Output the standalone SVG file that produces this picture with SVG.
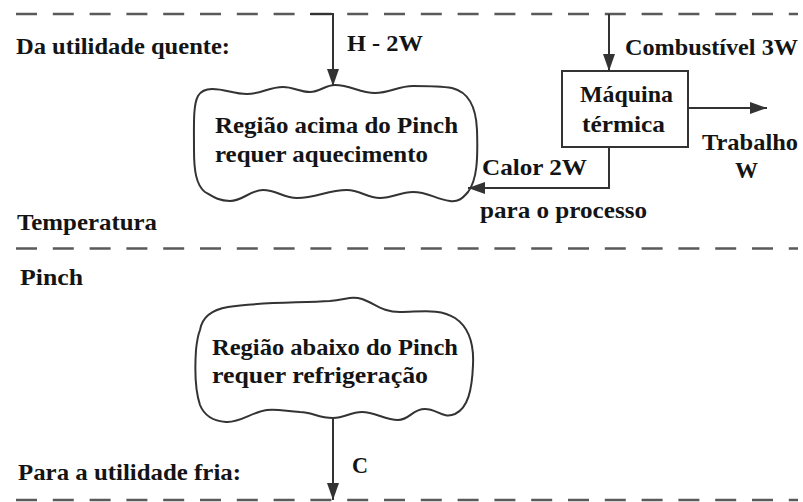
<svg xmlns="http://www.w3.org/2000/svg" width="803" height="502" viewBox="0 0 803 502">
  <defs>
    <marker id="arrow" markerUnits="userSpaceOnUse" markerWidth="18" markerHeight="12" refX="17" refY="6" orient="auto">
      <path d="M0,0 L17,6 L0,12 Z" fill="#333"/>
    </marker>
    <style>
      text { font-family: "Liberation Serif", "DejaVu Serif", "Times New Roman", serif; font-weight: bold; font-size: 24px; fill: #141414; }
      .mid { text-anchor: middle; }
      .bound { stroke: #5a5a5a; stroke-width: 2.5; stroke-dasharray: 21 15.8; fill: none; }
      .flow { stroke: #333; stroke-width: 2; fill: none; marker-end: url(#arrow); }
      .shape { stroke: #333; stroke-width: 2; fill: #fff; }
    </style>
  </defs>
  <rect width="803" height="502" fill="#fff"/>

  <!-- temperature boundaries -->
  <g id="boundaries">
    <line class="bound" x1="16" y1="14" x2="798" y2="14"/>
    <line class="bound" x1="16" y1="248.5" x2="798" y2="248.5"/>
    <line class="bound" x1="16" y1="500" x2="798" y2="500"/>
  </g>

  <!-- side labels -->
  <g id="labels">
    <text x="16" y="54" textLength="214" lengthAdjust="spacingAndGlyphs">Da utilidade quente:</text>
    <text x="17" y="230" textLength="140" lengthAdjust="spacingAndGlyphs">Temperatura</text>
    <text x="20" y="285" textLength="63" lengthAdjust="spacingAndGlyphs">Pinch</text>
    <text x="18" y="480" textLength="223" lengthAdjust="spacingAndGlyphs">Para a utilidade fria:</text>
  </g>

  <!-- region above the pinch -->
  <g id="above">
    <path class="shape" d="M 212,89 C 226,89 233,94 247,94 C 261,94 269,87 283,87 C 294,87 299,92 310,92 C 320,92 325,85 335,85 C 351,85 359,93 375,93 C 390,93 398,86 413,86 C 428,86 440,86 452,88 C 468,92 476,105 477,130 C 478,160 477,180 468,192 C 462,199 458,202 450,201 C 435,199 428,192 413,192 C 400,192 393,198 380,198 C 367,198 360,190 347,190 C 327,190 317,198 297,198 C 283,198 277,190 263,190 C 250,190 243,201 230,201 C 218,201 212,196 205,192 C 196,185 194,170 194,150 C 194,125 193,105 198,96 C 201,91 206,89 212,89 Z"/>
    <text x="215" y="133" textLength="243" lengthAdjust="spacingAndGlyphs">Região acima do Pinch</text>
    <text x="215" y="162" textLength="213" lengthAdjust="spacingAndGlyphs">requer aquecimento</text>
  </g>

  <!-- region below the pinch -->
  <g id="below">
    <path class="shape" d="M 200,330 C 202,318 210,310 228,307 C 260,302 300,303 330,301 C 348,299 352,296 362,299 C 376,304 382,312 400,312 C 420,312 440,308 455,318 C 470,328 474,345 473,365 C 472,390 468,408 455,414 C 443,419 437,409 425,409 C 412,409 410,420 398,420 C 385,420 375,412 362,412 C 350,412 345,418 333,418 C 318,418 312,412 300,412 C 285,411 278,409 267,410 C 252,412 240,423 226,422 C 212,421 204,415 200,405 C 195,390 195,365 196,350 C 197,340 198,335 200,330 Z"/>
    <text x="212" y="355" textLength="246" lengthAdjust="spacingAndGlyphs">Região abaixo do Pinch</text>
    <text x="212" y="383" textLength="216" lengthAdjust="spacingAndGlyphs">requer refrigeração</text>
  </g>

  <!-- heat engine -->
  <g id="engine">
    <rect class="shape" x="562" y="71" width="126" height="76"/>
    <text x="580" y="102" textLength="93" lengthAdjust="spacingAndGlyphs">Máquina</text>
    <text x="582" y="132" textLength="83" lengthAdjust="spacingAndGlyphs">térmica</text>
  </g>

  <!-- energy flows -->
  <g id="connectors">
    <path class="flow" d="M 310,14 H 333 V 86"/>
    <path class="flow" d="M 609,14 V 71"/>
    <path class="flow" d="M 688,108 H 767"/>
    <path class="flow" d="M 609,147 V 188 H 468"/>
    <path class="flow" d="M 333,418 V 500"/>
  </g>

  <!-- flow labels -->
  <g id="flow-labels">
    <text x="347" y="51" textLength="76" lengthAdjust="spacingAndGlyphs">H - 2W</text>
    <text x="625" y="55" textLength="173" lengthAdjust="spacingAndGlyphs">Combustível 3W</text>
    <text x="702" y="150" textLength="96" lengthAdjust="spacingAndGlyphs">Trabalho</text>
    <text x="735" y="178" textLength="23" lengthAdjust="spacingAndGlyphs">W</text>
    <text x="482" y="175" textLength="105" lengthAdjust="spacingAndGlyphs">Calor 2W</text>
    <text x="480" y="218" textLength="167" lengthAdjust="spacingAndGlyphs">para o processo</text>
    <text x="352" y="473" textLength="16" lengthAdjust="spacingAndGlyphs">C</text>
  </g>
</svg>
